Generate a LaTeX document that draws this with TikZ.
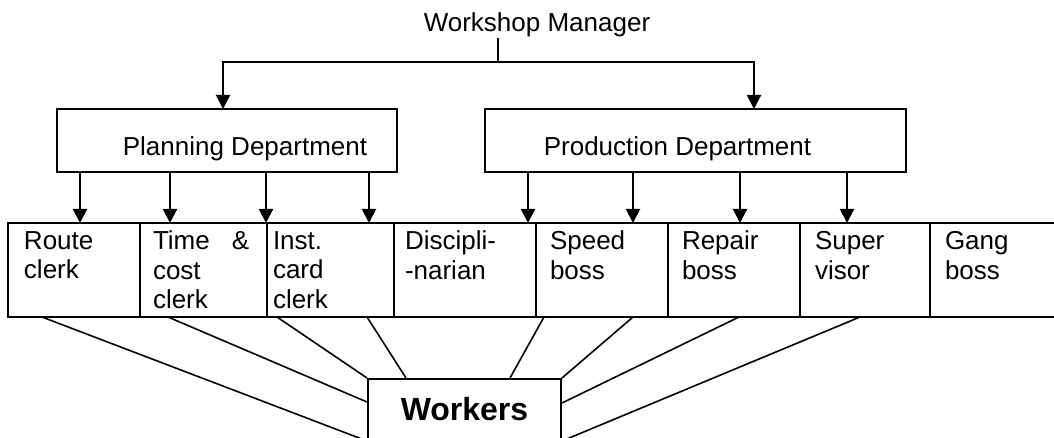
\documentclass[tikz,border=0pt]{standalone}
\usepackage{fontspec}
\setmainfont{Liberation Sans}
\usetikzlibrary{positioning,arrows.meta}
\tikzset{
  cell/.style={draw, line width=1pt, outer sep=0pt, anchor=west, minimum height=47pt, align=left, font=\fontsize{13}{14.75}\selectfont},
  dept/.style={draw, line width=1pt, outer sep=0pt, minimum height=31.5pt, font=\fontsize{13}{15}\selectfont},
  arr/.style={line width=1pt, -{Triangle[width=7pt,length=7pt]}},
  link/.style={line width=0.8pt}
}
\begin{document}
\begin{tikzpicture}[x=0.5pt,y=-0.5pt]
\useasboundingbox (0,0) rectangle (1054,438);
\clip (0,0) rectangle (1054,438);

\node[inner sep=0pt, anchor=base, font=\fontsize{13}{15}\selectfont] (mgr) at (537,32) {Workshop Manager};
\node[dept, minimum width=170pt] (plan) at (227,140.5) {\raisebox{-4pt}[\height][\depth]{\hspace{18pt}Planning Department}};
\node[dept, minimum width=210.5pt] (prod) at (695.5,140.5) {\raisebox{-4pt}[\height][\depth]{Production Department\hspace{18pt}}};

\node[cell, anchor=north west, minimum width=66pt, inner xsep=8pt, text width=50pt] (route) at (8,223) {Route\\clerk\\~};
\node[cell, right=0pt of route, minimum width=63.5pt, inner xsep=6.5pt, text width=50.5pt] (time) {Time\hspace{11pt}\&\\cost\\clerk};
\node[cell, right=0pt of time, minimum width=63.5pt, inner xsep=3pt, text width=57.5pt] (inst) {Inst.\\card\\clerk};
\node[cell, right=0pt of inst, minimum width=71pt, inner xsep=5.5pt, text width=60pt] (disc) {Discipli-\\-narian\\~};
\node[cell, right=0pt of disc, minimum width=66pt, inner xsep=7pt, text width=52pt] (speed) {Speed\\boss\\~};
\node[cell, right=0pt of speed, minimum width=66pt, inner xsep=7pt, text width=52pt] (repair) {Repair\\boss\\~};
\node[cell, right=0pt of repair, minimum width=65pt, inner xsep=7.5pt, text width=50pt] (super) {Super\\visor\\~};
\node[cell, right=0pt of super, minimum width=70pt, inner xsep=7.5pt, text width=55pt] (gang) {Gang\\boss\\~};

\node[draw, line width=1pt, minimum width=96.5pt, minimum height=30.5pt, font=\bfseries\fontsize{16}{19}\selectfont] (work) at (464.5,409.5) {Workers};

\coordinate (split) at (498,62);
\draw[line width=1pt] (mgr.south -| split) -- (split);
\draw[arr] (split) -| (plan.north -| 223,0);
\draw[arr] (split) -| (prod.north -| 754,0);

\draw[arr] (plan.south -| 80,0) -- (route.north -| 80,0);
\draw[arr] (plan.south -| 170,0) -- (time.north -| 170,0);
\draw[arr] (plan.south -| 266,0) -- (time.north -| 266,0);
\draw[arr] (plan.south -| 369,0) -- (inst.north -| 369,0);
\draw[arr] (prod.south -| 528,0) -- (disc.north -| 528,0);
\draw[arr] (prod.south -| 633,0) -- (speed.north -| 633,0);
\draw[arr] (prod.south -| 740,0) -- (repair.north -| 740,0);
\draw[arr] (prod.south -| 847,0) -- (super.north -| 847,0);

\draw[link] (route.south -| 42,0) -- (work.south west);
\draw[link] (time.south -| 168,0) -- (work.west |- 0,402);
\draw[link] (inst.south -| 277,0) -- (work.north west);
\draw[link] (inst.south -| 367,0) -- (work.north -| 406,0);
\draw[link] (speed.south -| 544,0) -- (work.north -| 510,0);
\draw[link] (speed.south -| 633,0) -- (work.north east);
\draw[link] (repair.south -| 739,0) -- (work.east |- 0,403);
\draw[link] (super.south -| 860,0) -- (work.south east);
\end{tikzpicture}
\end{document}
